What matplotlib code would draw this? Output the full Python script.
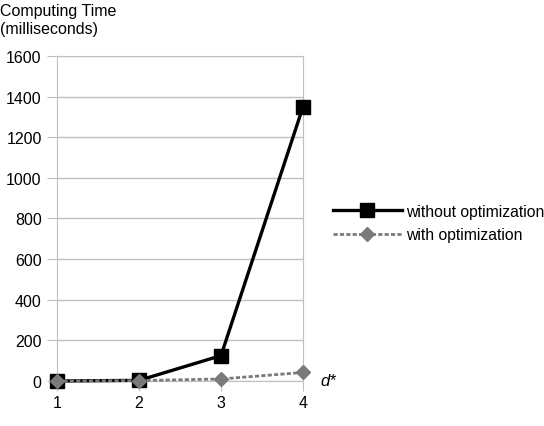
import matplotlib.pyplot as plt

plt.rcParams['font.family'] = ['Liberation Sans', 'DejaVu Sans']

d = [1, 2, 3, 4]
without_opt = [0, 3, 125, 1350]
with_opt = [0, 2, 10, 42]
yticks = [0, 200, 400, 600, 800, 1000, 1200, 1400, 1600]

fig = plt.figure(figsize=(5.44, 4.27), dpi=100)
ax = fig.add_axes([0.1048, 0.1054, 0.4522, 0.7611])

ax.plot(d, without_opt, color='black', lw=2.4, marker='s', ms=10,
        label='without optimization', clip_on=False, zorder=3)
ax.plot(d, with_opt, color='#7a7a7a', lw=2, ls=(0, (1.5, 0.8)), marker='D', ms=7,
        label='with optimization', clip_on=False, zorder=4)

ax.set_xlim(1, 4)
ax.set_ylim(0, 1600)
ax.set_xticks(d)
ax.set_yticks(yticks)
ax.grid(axis='y', color='#c0c0c0', lw=1)
for s in ['left', 'right', 'top', 'bottom']:
    ax.spines[s].set_color('#c0c0c0')
ax.tick_params(colors='#c0c0c0', labelcolor='black', labelsize=11.5, length=7)
ax.tick_params(axis='x', pad=3)
ax.tick_params(axis='y', pad=4)

fig.text(0.0, 0.99, 'Computing Time\n(milliseconds)', ha='left', va='top',
         fontsize=11.5, linespacing=1.2)
ax.text(1.07, 0.0, 'd*', transform=ax.transAxes, fontsize=12, style='italic',
        va='center', ha='left')

fig.legend(loc='center left', bbox_to_anchor=(0.612, 0.475), frameon=False,
           handlelength=4.4, fontsize=11.3, handletextpad=0.25, labelspacing=0.55,
           borderaxespad=0, borderpad=0)

fig.savefig('out.png', dpi=100)
